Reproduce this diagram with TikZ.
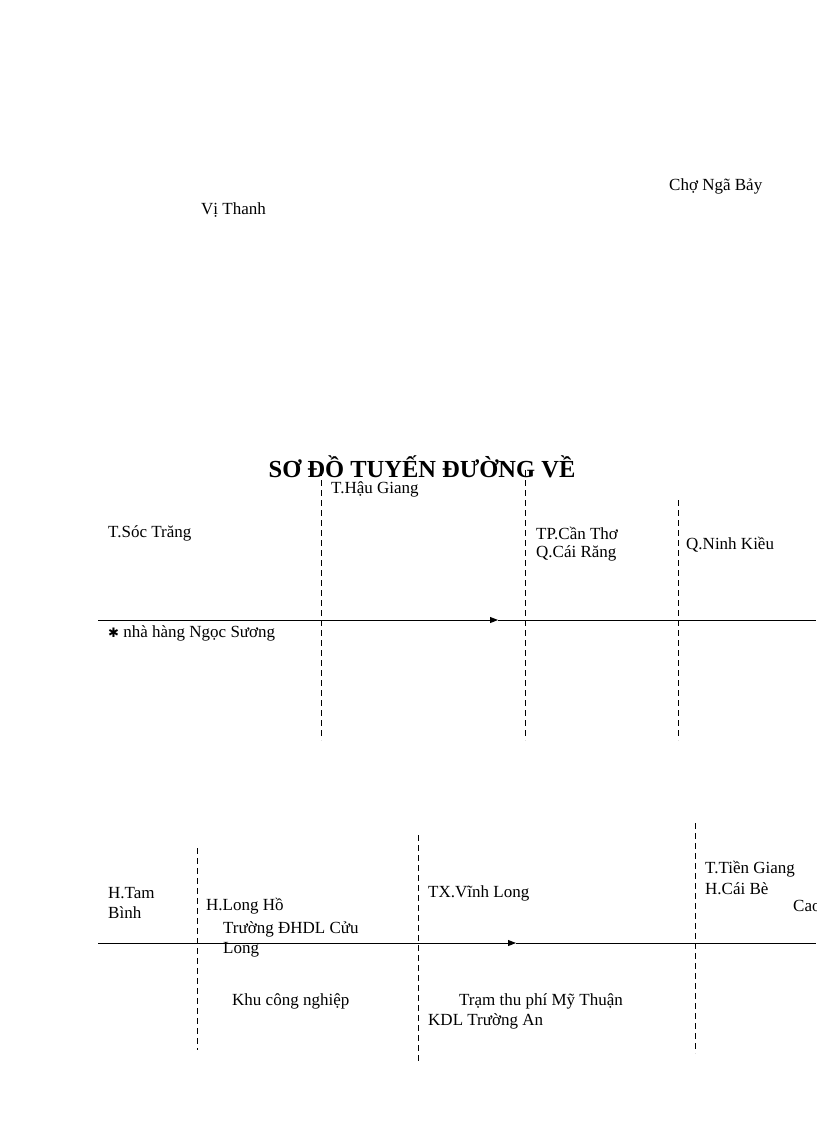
\documentclass[tikz,border=0pt]{standalone}
\usepackage{fontspec}
\setmainfont{Liberation Serif}
\usetikzlibrary{arrows.meta}
\begin{document}
\begin{tikzpicture}[x=1pt,y=-1pt,
  lbl/.style={anchor=west,inner sep=0pt,font=\fontsize{17}{19}\selectfont},
  dash line/.style={dash pattern=on 6pt off 4pt,line width=0.8pt},
  road/.style={line width=0.9pt},
  tip/.style={-{Triangle[length=8pt,width=6pt]},road}]
\useasboundingbox (0,0) rectangle (816,1123);
\clip (0,0) rectangle (816,1123);
\node[lbl] (ngabay) at (669,186) {Chợ Ngã Bảy};
\node[lbl] (vithanh) at (201,210) {Vị Thanh};
\node[font=\bfseries\fontsize{24.5}{27}\selectfont,inner sep=0pt] (title) at (422,467) {SƠ ĐỒ TUYẾN ĐƯỜNG VỀ};
% top diagram
\coordinate (l1s) at (98,620); \coordinate (l1m) at (498,620); \coordinate (l1e) at (816,620);
\draw[tip] (l1s) -- (l1m);
\draw[road] (l1m) -- (l1e);
\coordinate (d1a) at (321,470); \coordinate (d1b) at (321,740);
\coordinate (d2a) at (525,470); \coordinate (d2b) at (525,740);
\coordinate (d3a) at (678,500); \coordinate (d3b) at (678,740);
\draw[dash line] (d1a) -- (d1b);
\draw[dash line] (d2a) -- (d2b);
\draw[dash line] (d3a) -- (d3b);
\node[lbl] (haugiang) at (331,489) {T.Hậu Giang};
\node[lbl] (soctrang) at (108,533) {T.Sóc Trăng};
\node[lbl] (cantho) at (536,533) {TP.Cần Thơ};
\node[lbl] (cairang) at (536,553) {Q.Cái Răng};
\node[lbl] (ninhkieu) at (686,545) {Q.Ninh Kiều};
\node[lbl] (ngocsuong) at (108,633) {{\fontspec{DejaVu Sans}\fontsize{13}{14}\selectfont ✱} nhà hàng Ngọc Sương};
% bottom diagram
\coordinate (l2s) at (98,943); \coordinate (l2m) at (516,943); \coordinate (l2e) at (816,943);
\draw[tip] (l2s) -- (l2m);
\draw[road] (l2m) -- (l2e);
\coordinate (e1a) at (197,848); \coordinate (e1b) at (197,1050);
\coordinate (e2a) at (418,835); \coordinate (e2b) at (418,1063);
\coordinate (e3a) at (695,823); \coordinate (e3b) at (695,1053);
\draw[dash line] (e1a) -- (e1b);
\draw[dash line] (e2a) -- (e2b);
\draw[dash line] (e3a) -- (e3b);
\node[lbl] (tam) at (108,893) {H.Tam};
\node[lbl] (binh) at (108,913) {Bình};
\node[lbl] (longho) at (206,906) {H.Long Hồ};
\node[lbl] (dhdl) at (223,929) {Trường ĐHDL Cửu};
\node[lbl] (long) at (223,950) {Long};
\node[lbl] (vinhlong) at (428,893) {TX.Vĩnh Long};
\node[lbl] (tiengiang) at (705,869) {T.Tiền Giang};
\node[lbl] (caibe) at (705,889) {H.Cái Bè};
\node[lbl] (cao) at (793,906) {Cao};
\node[lbl] (kcn) at (232,1001) {Khu công nghiệp};
\node[lbl] (tram) at (459,1001) {Trạm thu phí Mỹ Thuận};
\node[lbl] (kdl) at (428,1021) {KDL Trường An};
\end{tikzpicture}
\end{document}
